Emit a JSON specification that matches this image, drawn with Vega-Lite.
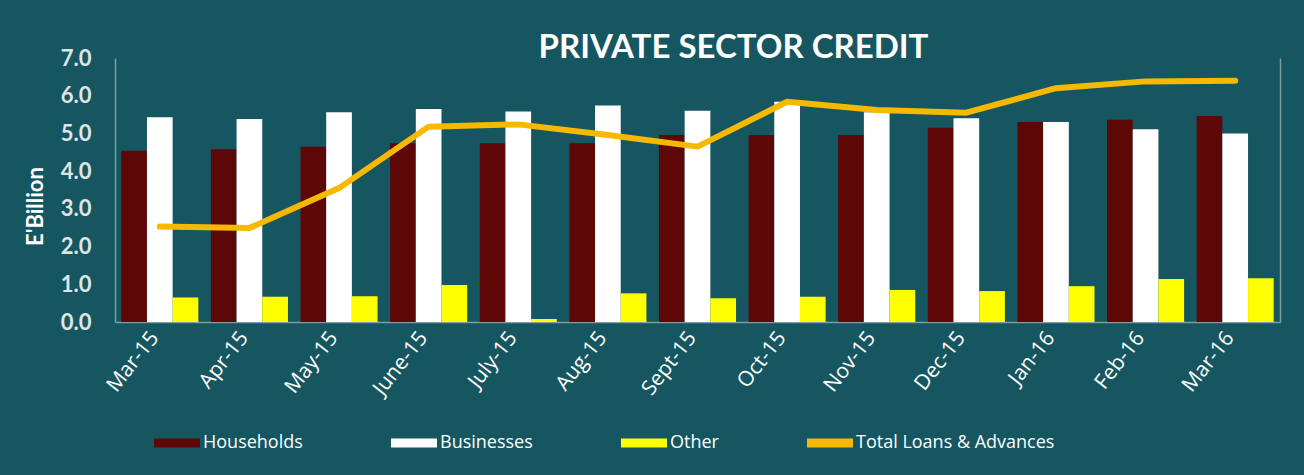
{
  "$schema": "https://vega.github.io/schema/vega-lite/v6.json",
  "autosize": {"type": "none"},
  "width": 1165,
  "height": 264,
  "padding": {"left": 115, "top": 58, "right": 24, "bottom": 153},
  "background": "#155660",
  "title": {
    "text": "PRIVATE SECTOR CREDIT",
    "font": "Lato",
    "fontSize": 33,
    "fontWeight": "bold",
    "color": "#ffffff",
    "anchor": "middle",
    "dx": 36,
    "dy": 20,
    "offset": 2
  },
  "datasets": {
    "bars": [
      {"month": "Mar-15", "series": "Households", "value": 4.54},
      {"month": "Mar-15", "series": "Businesses", "value": 5.43},
      {"month": "Mar-15", "series": "Other", "value": 0.65},
      {"month": "Apr-15", "series": "Households", "value": 4.58},
      {"month": "Apr-15", "series": "Businesses", "value": 5.38},
      {"month": "Apr-15", "series": "Other", "value": 0.67},
      {"month": "May-15", "series": "Households", "value": 4.65},
      {"month": "May-15", "series": "Businesses", "value": 5.56},
      {"month": "May-15", "series": "Other", "value": 0.68},
      {"month": "June-15", "series": "Households", "value": 4.74},
      {"month": "June-15", "series": "Businesses", "value": 5.65},
      {"month": "June-15", "series": "Other", "value": 0.98},
      {"month": "July-15", "series": "Households", "value": 4.74},
      {"month": "July-15", "series": "Businesses", "value": 5.58},
      {"month": "July-15", "series": "Other", "value": 0.08},
      {"month": "Aug-15", "series": "Households", "value": 4.74},
      {"month": "Aug-15", "series": "Businesses", "value": 5.74},
      {"month": "Aug-15", "series": "Other", "value": 0.76},
      {"month": "Sept-15", "series": "Households", "value": 4.96},
      {"month": "Sept-15", "series": "Businesses", "value": 5.6},
      {"month": "Sept-15", "series": "Other", "value": 0.63},
      {"month": "Oct-15", "series": "Households", "value": 4.96},
      {"month": "Oct-15", "series": "Businesses", "value": 5.84},
      {"month": "Oct-15", "series": "Other", "value": 0.67},
      {"month": "Nov-15", "series": "Households", "value": 4.96},
      {"month": "Nov-15", "series": "Businesses", "value": 5.56},
      {"month": "Nov-15", "series": "Other", "value": 0.85},
      {"month": "Dec-15", "series": "Households", "value": 5.15},
      {"month": "Dec-15", "series": "Businesses", "value": 5.4},
      {"month": "Dec-15", "series": "Other", "value": 0.82},
      {"month": "Jan-16", "series": "Households", "value": 5.3},
      {"month": "Jan-16", "series": "Businesses", "value": 5.3},
      {"month": "Jan-16", "series": "Other", "value": 0.95},
      {"month": "Feb-16", "series": "Households", "value": 5.36},
      {"month": "Feb-16", "series": "Businesses", "value": 5.11},
      {"month": "Feb-16", "series": "Other", "value": 1.14},
      {"month": "Mar-16", "series": "Households", "value": 5.46},
      {"month": "Mar-16", "series": "Businesses", "value": 5.0},
      {"month": "Mar-16", "series": "Other", "value": 1.16}
    ],
    "total": [
      {"month": "Mar-15", "series": "Total Loans & Advances", "value": 2.53},
      {"month": "Apr-15", "series": "Total Loans & Advances", "value": 2.49},
      {"month": "May-15", "series": "Total Loans & Advances", "value": 3.55},
      {"month": "June-15", "series": "Total Loans & Advances", "value": 5.18},
      {"month": "July-15", "series": "Total Loans & Advances", "value": 5.24},
      {"month": "Aug-15", "series": "Total Loans & Advances", "value": 4.96},
      {"month": "Sept-15", "series": "Total Loans & Advances", "value": 4.65},
      {"month": "Oct-15", "series": "Total Loans & Advances", "value": 5.84},
      {"month": "Nov-15", "series": "Total Loans & Advances", "value": 5.62},
      {"month": "Dec-15", "series": "Total Loans & Advances", "value": 5.55},
      {"month": "Jan-16", "series": "Total Loans & Advances", "value": 6.2},
      {"month": "Feb-16", "series": "Total Loans & Advances", "value": 6.38},
      {"month": "Mar-16", "series": "Total Loans & Advances", "value": 6.4}
    ]
  },
  "encoding": {
    "x": {
      "field": "month",
      "type": "nominal",
      "sort": ["Mar-15","Apr-15","May-15","June-15","July-15","Aug-15","Sept-15","Oct-15","Nov-15","Dec-15","Jan-16","Feb-16","Mar-16"],
      "scale": {"paddingInner": 0.14, "paddingOuter": 0.07},
      "axis": {
        "title": null,
        "labelAngle": -52,
        "labelAlign": "right",
        "labelBaseline": "middle",
        "labelFont": "Open Sans",
        "labelFontSize": 21,
        "labelColor": "#ffffff",
        "labelPadding": 12,
        "labelOffset": -5,
        "ticks": false,
        "domainColor": "#7f9da3",
        "domainWidth": 1.5,
        "grid": false
      }
    }
  },
  "layer": [
    {
      "data": {"name": "bars"},
      "mark": {"type": "bar", "stroke": null},
      "encoding": {
        "xOffset": {"field": "series", "type": "nominal", "sort": ["Households", "Businesses", "Other"], "scale": {"paddingInner": 0, "paddingOuter": 0}},
        "y": {
          "field": "value",
          "type": "quantitative",
          "scale": {"domain": [0, 7]},
          "axis": {
            "title": "E'Billion",
            "titleFont": "Lato",
            "titleFontSize": 22,
            "titleFontWeight": "bold",
            "titleColor": "#ffffff",
            "titleX": -80,
            "titleY": 148,
            "titleAngle": -90,
            "titleAlign": "center",
            "titleBaseline": "middle",
            "values": [0, 1, 2, 3, 4, 5, 6, 7],
            "format": ".1f",
            "labelFont": "Lato",
            "labelFontSize": 22,
            "labelFontWeight": "bold",
            "labelColor": "#dfe5e7",
            "labelPadding": 24,
            "ticks": false,
            "grid": false,
            "domainColor": "#7f9da3",
            "domainWidth": 1.5
          }
        },
        "color": {
          "field": "series",
          "type": "nominal",
          "scale": {
            "domain": ["Households", "Businesses", "Other", "Total Loans & Advances"],
            "range": ["#5e0707", "#ffffff", "#ffff00", "#f7b900"]
          },
          "legend": {
            "title": null,
            "orient": "none",
            "direction": "horizontal",
            "legendX": 39,
            "legendY": 362,
            "symbolType": "M-1,-0.2H1V0.2H-1Z",
            "symbolSize": 2116,
            "symbolStrokeWidth": 0,
            "labelFont": "Open Sans",
            "labelFontSize": 18,
            "labelLimit": 0,
            "labelColor": "#ffffff",
            "labelOffset": 3,
            "columnPadding": 88
          }
        }
      }
    },
    {
      "data": {"name": "total"},
      "mark": {"type": "line", "strokeWidth": 6, "strokeCap": "round", "strokeJoin": "round", "color": "#f7b900"},
      "encoding": {
        "y": {
          "field": "value",
          "type": "quantitative",
          "scale": {"domain": [0, 7]},
          "axis": {
            "orient": "right",
            "title": null,
            "labels": false,
            "ticks": false,
            "grid": false,
            "domainColor": "#7f9da3",
            "domainWidth": 1.5
          }
        },
        "color": {"field": "series", "type": "nominal"}
      }
    }
  ],
  "resolve": {"scale": {"y": "independent"}},
  "config": {"view": {"stroke": null}}
}
